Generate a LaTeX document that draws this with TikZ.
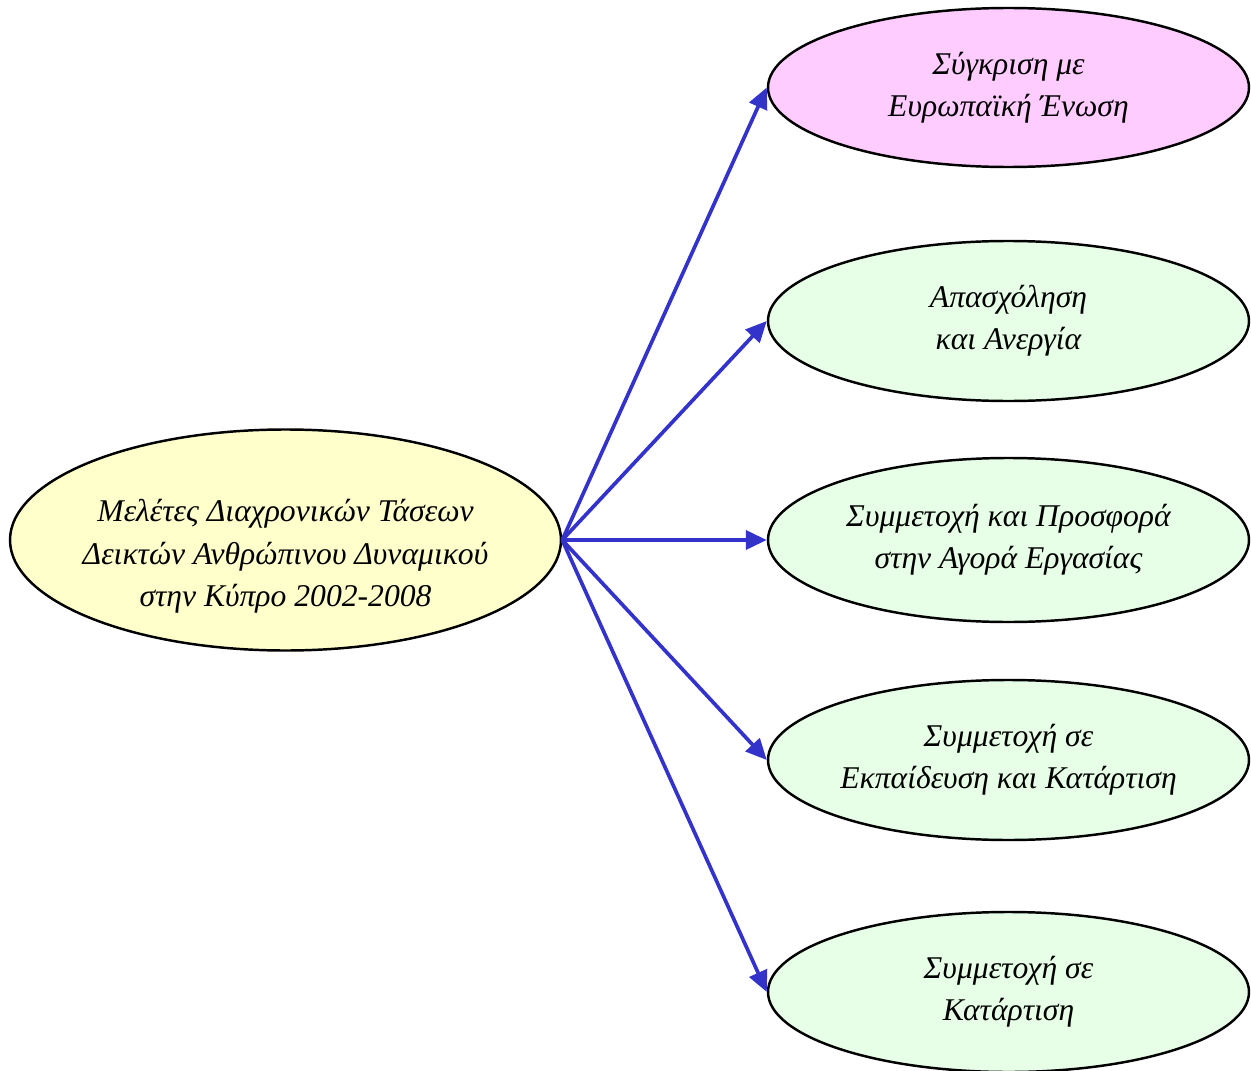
\documentclass[tikz,border=0pt]{standalone}
\usepackage{fontspec}
\setmainfont{Liberation Serif}
\usepackage{xcolor}
\usepackage{tikz}
\usetikzlibrary{positioning,calc,arrows.meta,shapes.geometric}
\definecolor{MainYellow}{HTML}{FFFFCC}
\definecolor{EuroPink}{HTML}{FFCCFF}
\definecolor{TopicGreen}{HTML}{E6FFE6}
\definecolor{ArrowBlue}{HTML}{3333CC}

\begin{document}
\begin{tikzpicture}[
      oval/.style = {ellipse, draw=black, line width=1.4pt, fill=TopicGreen,
        inner xsep=-0.2cm, inner ysep=0pt, align=center,
        minimum width=9.62cm, minimum height=3.2cm,
        font=\fontsize{18}{24}\selectfont\itshape},
      arrow/.style = {line width=2.1pt, draw=ArrowBlue,
        -{Triangle[length=0.42cm,width=0.38cm]}, fill=ArrowBlue}
    ]
    \useasboundingbox (0,0) rectangle (25.02,-21.42);
    \node (M) [oval, fill=MainYellow, minimum width=11.02cm, minimum height=4.42cm]
      at (5.71,-10.8)
      {\rule{0pt}{1.1cm}Μελέτες Διαχρονικών Τάσεων\\Δεικτών Ανθρώπινου Δυναμικού\\στην Κύπρο 2002-2008};
    \node (E) [oval, fill=EuroPink, minimum height=3.18cm] at (20.17,-1.75)
      {Σύγκριση με\\Ευρωπαϊκή Ένωση};
    \node (A) [oval] at (20.17,-6.42) {Απασχόληση\\και Ανεργία};
    \node (P) [oval, minimum height=3.28cm] at (20.17,-10.8)
      {Συμμετοχή και Προσφορά\\στην Αγορά Εργασίας};
    \node (T) [oval] at (20.17,-15.2) {Συμμετοχή σε\\Εκπαίδευση και Κατάρτιση};
    \node (K) [oval] at (20.17,-19.84) {Συμμετοχή σε\\Κατάρτιση};
    \draw [arrow] (M.east) -- (E.west);
    \draw [arrow] (M.east) -- (A.west);
    \draw [arrow] (M.east) -- (P.west);
    \draw [arrow] (M.east) -- (T.west);
    \draw [arrow] (M.east) -- (K.west);
  \end{tikzpicture}
\end{document}
